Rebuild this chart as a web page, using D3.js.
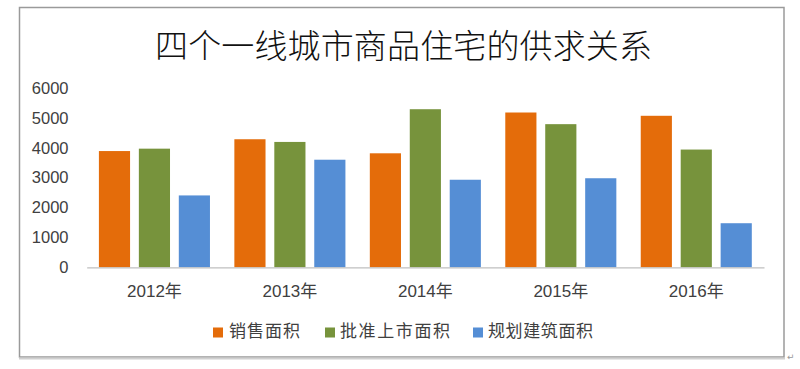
<!DOCTYPE html>
<html>
<head>
<meta charset="utf-8">
<script src="https://cdn.jsdelivr.net/npm/d3@7"></script>
<style>
html,body{margin:0;padding:0;background:#fff;}
svg{display:block;}
</style>
</head>
<body>
<svg id="chart" width="800" height="369"></svg>
<script>
const title = "四个一线城市商品住宅的供求关系";
const categories = ["2012年","2013年","2014年","2015年","2016年"];
const seriesNames = ["销售面积","批准上市面积","规划建筑面积"];
const salesArea = [3890, 4285, 3815, 5180, 5070];
const approvedArea = [3970, 4195, 5290, 4790, 3940];
const plannedArea = [2405, 3600, 2930, 2980, 1475];
const yTicks = [0, 1000, 2000, 3000, 4000, 5000, 6000];
const colors = ["#E46C0A", "#77933C", "#558ED5"];

const seriesValues = [salesArea, approvedArea, plannedArea];
const data = categories.map((c, i) => ({
  cat: c,
  vals: seriesNames.map((s, j) => ({ key: s, value: seriesValues[j][i], idx: j }))
}));

const svg = d3.select("#chart");

// frame
svg.append("rect")
  .attr("x", 19.5).attr("y", 7.5).attr("width", 764.5).attr("height", 349.5)
  .attr("fill", "#fff").attr("stroke", "#9a9a9a").attr("stroke-width", 1.5);
svg.append("line")
  .attr("x1", 19).attr("x2", 785).attr("y1", 358.5).attr("y2", 358.5)
  .attr("stroke", "#d0d0d0").attr("stroke-width", 2);
svg.append("text")
  .attr("x", 787).attr("y", 360)
  .attr("font-size", 9).attr("fill", "#999")
  .attr("font-family", "DejaVu Sans")
  .text("↵");

// title
svg.append("text")
  .attr("x", 155).attr("y", 44)
  .attr("dominant-baseline", "central")
  .attr("font-family", "'Noto Sans CJK SC', sans-serif")
  .attr("font-size", 33)
  .attr("font-weight", 300)
  .attr("textLength", 497)
  .attr("lengthAdjust", "spacing")
  .attr("fill", "#111")
  .text(title);

const x0 = d3.scaleBand().domain(categories).range([86.7, 764]).padding(0);
const groupPad = 12.2;
const x1 = d3.scaleBand().domain(seriesNames)
  .range([groupPad, x0.bandwidth() - groupPad]).paddingInner(0.22).paddingOuter(0);
const y = d3.scaleLinear().domain([0, 6000]).range([267.3, 88]);

// y axis labels
const yAxis = d3.axisLeft(y).tickValues(yTicks).tickSize(0).tickPadding(0).tickFormat(d3.format("d"));
const yg = svg.append("g").attr("transform", "translate(68.5,0)").call(yAxis);
yg.select(".domain").remove();
yg.selectAll("text")
  .attr("font-family", "'Liberation Sans', sans-serif")
  .attr("font-size", 16.5)
  .attr("fill", "#404040");

// bars
const groups = svg.append("g").selectAll("g").data(data).join("g")
  .attr("transform", d => `translate(${x0(d.cat)},0)`);
groups.selectAll("rect").data(d => d.vals).join("rect")
  .attr("x", d => x1(d.key))
  .attr("width", x1.bandwidth())
  .attr("y", d => y(d.value))
  .attr("height", d => y(0) - y(d.value))
  .attr("fill", d => colors[d.idx]);

// x axis
const xAxis = d3.axisBottom(x0).tickSize(0).tickPadding(18);
const xg = svg.append("g").attr("transform", `translate(0,${y(0)})`).call(xAxis);
xg.select(".domain").attr("stroke", "#bfbfbf").attr("stroke-width", 1.2);
xg.selectAll("text")
  .attr("font-family", "'Liberation Sans', 'Noto Sans CJK SC', sans-serif")
  .attr("font-size", 17)
  .attr("fill", "#404040");

// legend
const legendItems = [
  { name: seriesNames[0], sx: 213, tx: 229, len: 71 },
  { name: seriesNames[1], sx: 325, tx: 340, len: 110 },
  { name: seriesNames[2], sx: 473, tx: 488, len: 105 }
];
const lg = svg.append("g");
legendItems.forEach((it, i) => {
  lg.append("rect")
    .attr("x", it.sx).attr("y", 327.5).attr("width", 10).attr("height", 10)
    .attr("fill", colors[i]);
  lg.append("text")
    .attr("x", it.tx).attr("y", 329)
    .attr("dominant-baseline", "central")
    .attr("font-family", "'Noto Sans CJK SC', sans-serif")
    .attr("font-size", 17)
    .attr("textLength", it.len)
    .attr("lengthAdjust", "spacing")
    .attr("fill", "#404040")
    .text(it.name);
});
</script>
</body>
</html>
